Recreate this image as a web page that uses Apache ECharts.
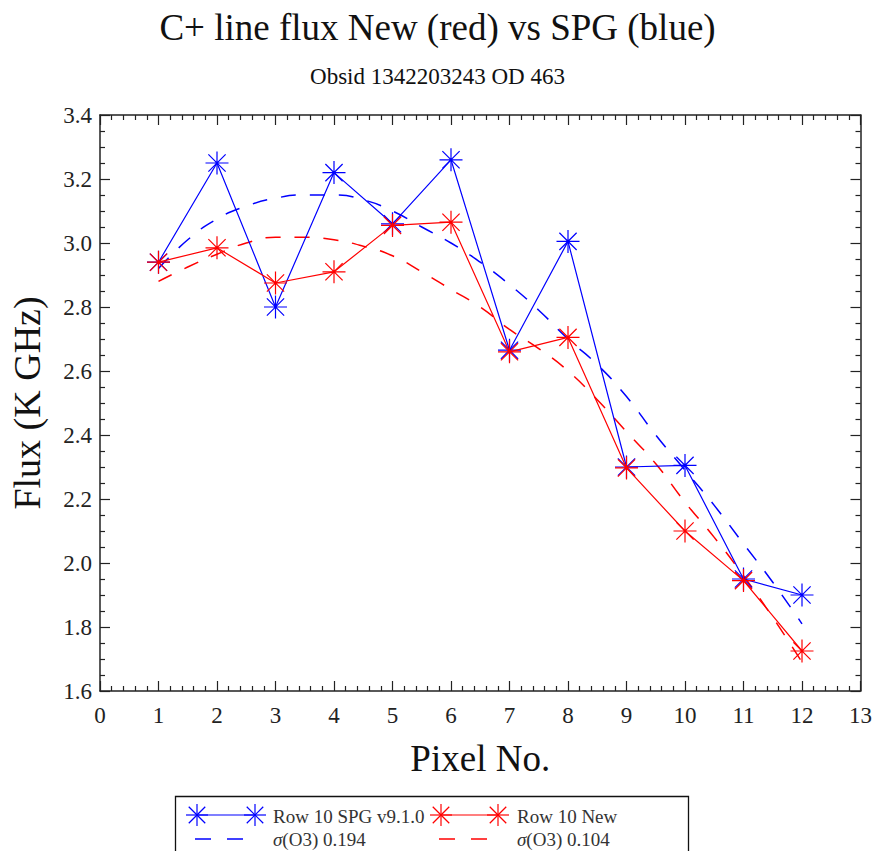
<!DOCTYPE html>
<html>
<head>
<meta charset="utf-8">
<script src="https://cdn.jsdelivr.net/npm/echarts@6/dist/echarts.min.js"></script>
<style>
html,body{margin:0;padding:0;background:#fff;}
#chart{width:875px;height:851px;}
</style>
</head>
<body>
<div id="chart"></div>
<script>
// ---- data ----
const pixels = [1, 2, 3, 4, 5, 6, 7, 8, 9, 10, 11, 12];
const spgFlux = [2.94, 3.25, 2.80, 3.22, 3.06, 3.26, 2.665, 3.005, 2.30, 2.305, 1.95, 1.90];
const newFlux = [2.94, 2.985, 2.875, 2.91, 3.055, 3.065, 2.66, 2.705, 2.297, 2.10, 1.945, 1.725];
const fitX = [1, 1.5, 2, 2.5, 3, 3.5, 4, 4.5, 5, 5.5, 6, 6.5, 7, 7.5, 8, 8.5, 9, 9.5, 10, 10.5, 11, 11.5, 12];
const spgFit = [2.92, 3.01, 3.075, 3.115, 3.14, 3.15, 3.15, 3.135, 3.10, 3.05, 3.00, 2.94, 2.87, 2.79, 2.70, 2.62, 2.52, 2.40, 2.29, 2.18, 2.06, 1.94, 1.81];
const newFit = [2.88, 2.925, 2.965, 3.00, 3.018, 3.018, 3.01, 2.99, 2.96, 2.91, 2.855, 2.80, 2.73, 2.67, 2.60, 2.51, 2.41, 2.31, 2.19, 2.08, 1.96, 1.83, 1.69];
const xTicks = [0, 13, 1];
const yTicks = [1.6, 3.4, 0.2];
const titleText = 'C+ line flux New (red) vs SPG (blue)';
const subText = 'Obsid 1342203243 OD 463';
const legendNames = ['Row 10 SPG v9.1.0', 'Row 10 New', '{i|σ}(O3) 0.194', '{i|σ}(O3) 0.104'];

const BLUE = '#0000ff', RED = '#ff0000', AX = '#222';
const FONT = '"Liberation Serif", "DejaVu Serif", serif';
const STAR = 'path://M0 -10 L0 10 M-10 0 L10 0 M-7.5 -7.5 L7.5 7.5 M-7.5 7.5 L7.5 -7.5';

function pairs(xs, ys) { return xs.map((x, i) => [x, ys[i]]); }

function axisCommon(showLabel, minorSplit) {
  return {
    axisLine: { show: true, onZero: false, lineStyle: { color: AX, width: 1.5 } },
    axisTick: { show: true, inside: true, length: 10, lineStyle: { color: AX, width: 1.2 } },
    minorTick: { show: true, splitNumber: minorSplit, length: 5, lineStyle: { color: AX, width: 1.2 } },
    splitLine: { show: false },
    axisLabel: { show: showLabel, color: '#222', fontFamily: FONT, fontSize: 23 }
  };
}

// legend asterisk built from four strokes
function starLines(cx, cy, r, color) {
  const d = r * 0.75;
  const segs = [[0, -r, 0, r], [-r, 0, r, 0], [-d, -d, d, d], [-d, d, d, -d]];
  return segs.map(s => ({
    type: 'line',
    shape: { x1: cx + s[0], y1: cy + s[1], x2: cx + s[2], y2: cy + s[3] },
    style: { stroke: color, lineWidth: 1.2 }
  }));
}

const chart = echarts.init(document.getElementById('chart'), null, { renderer: 'svg' });

const LFONT = '19px ' + FONT;
const LTXT = '#333';
const legendGraphic = [
  { type: 'rect', shape: { x: 175.5, y: 796.5, width: 513, height: 70 },
    style: { fill: '#fff', stroke: '#111', lineWidth: 1.3 } },
  // row 1 blue
  { type: 'line', shape: { x1: 197, y1: 815, x2: 255, y2: 815 }, style: { stroke: BLUE, lineWidth: 1.2 } },
  ...starLines(197, 815, 11, BLUE),
  ...starLines(255, 815, 11, BLUE),
  { type: 'text', style: { text: legendNames[0], x: 273, y: 816, textVerticalAlign: 'middle', fill: LTXT, font: LFONT } },
  // row 1 red
  { type: 'line', shape: { x1: 441, y1: 815, x2: 498, y2: 815 }, style: { stroke: RED, lineWidth: 1.2 } },
  ...starLines(441, 815, 11, RED),
  ...starLines(498, 815, 11, RED),
  { type: 'text', style: { text: legendNames[1], x: 517, y: 816, textVerticalAlign: 'middle', fill: LTXT, font: LFONT } },
  // row 2 blue dashes
  { type: 'line', shape: { x1: 195, y1: 839, x2: 211, y2: 839 }, style: { stroke: BLUE, lineWidth: 1.5 } },
  { type: 'line', shape: { x1: 227, y1: 839, x2: 243, y2: 839 }, style: { stroke: BLUE, lineWidth: 1.5 } },
  { type: 'text', style: { text: legendNames[2], x: 273, y: 839, textVerticalAlign: 'middle', fill: LTXT, font: LFONT,
    rich: { i: { fontStyle: 'italic', fontSize: 19, fontFamily: FONT, fill: LTXT } } } },
  // row 2 red dashes
  { type: 'line', shape: { x1: 439, y1: 839, x2: 455, y2: 839 }, style: { stroke: RED, lineWidth: 1.5 } },
  { type: 'line', shape: { x1: 471, y1: 839, x2: 487, y2: 839 }, style: { stroke: RED, lineWidth: 1.5 } },
  { type: 'text', style: { text: legendNames[3], x: 517, y: 839, textVerticalAlign: 'middle', fill: LTXT, font: LFONT,
    rich: { i: { fontStyle: 'italic', fontSize: 19, fontFamily: FONT, fill: LTXT } } } }
];

const option = {
  backgroundColor: '#fff',
  animation: false,
  title: [
    { text: titleText, left: 'center', top: 4,
      textStyle: { fontFamily: FONT, fontSize: 37, fontWeight: 'normal', color: '#111' } },
    { text: subText, left: 'center', top: 60,
      textStyle: { fontFamily: FONT, fontSize: 23, fontWeight: 'normal', color: '#111' } }
  ],
  grid: { left: 94, right: 12, top: 115, bottom: 160, containLabel: false },
  xAxis: [
    Object.assign(axisCommon(true, 5), {
      type: 'value', position: 'bottom', min: xTicks[0], max: xTicks[1], interval: xTicks[2],
      name: 'Pixel No.', nameLocation: 'middle', nameGap: 49,
      nameTextStyle: { fontFamily: FONT, fontSize: 37, color: '#111' },
      axisLabel: { show: true, color: '#222', fontFamily: FONT, fontSize: 23, margin: 13 }
    }),
    Object.assign(axisCommon(false, 5), {
      type: 'value', position: 'top', min: xTicks[0], max: xTicks[1], interval: xTicks[2]
    })
  ],
  yAxis: [
    Object.assign(axisCommon(true, 4), {
      type: 'value', position: 'left', min: yTicks[0], max: yTicks[1], interval: yTicks[2],
      name: 'Flux (K GHz)', nameLocation: 'middle', nameGap: 54,
      nameTextStyle: { fontFamily: FONT, fontSize: 38, color: '#111' },
      axisLabel: { show: true, color: '#222', fontFamily: FONT, fontSize: 23, margin: 8,
        padding: [8, 0, 0, 0], formatter: v => v.toFixed(1) }
    }),
    Object.assign(axisCommon(false, 4), {
      type: 'value', position: 'right', min: yTicks[0], max: yTicks[1], interval: yTicks[2]
    })
  ],
  series: [
    { type: 'line', name: 'SPG fit', data: pairs(fitX, spgFit), smooth: true, symbol: 'none',
      lineStyle: { color: BLUE, width: 1.5, type: [15, 14] }, z: 2 },
    { type: 'line', name: 'New fit', data: pairs(fitX, newFit), smooth: true, symbol: 'none',
      lineStyle: { color: RED, width: 1.5, type: [15, 14] }, z: 2 },
    { type: 'line', name: 'Row 10 SPG v9.1.0', data: pairs(pixels, spgFlux), symbol: STAR, symbolSize: 23,
      showAllSymbol: true, lineStyle: { color: BLUE, width: 1.2 },
      itemStyle: { color: 'none', borderColor: BLUE, borderWidth: 1.2 }, z: 3 },
    { type: 'line', name: 'Row 10 New', data: pairs(pixels, newFlux), symbol: STAR, symbolSize: 23,
      showAllSymbol: true, lineStyle: { color: RED, width: 1.2 },
      itemStyle: { color: 'none', borderColor: RED, borderWidth: 1.2 }, z: 4 }
  ],
  graphic: legendGraphic
};
chart.setOption(option);
</script>
</body>
</html>
